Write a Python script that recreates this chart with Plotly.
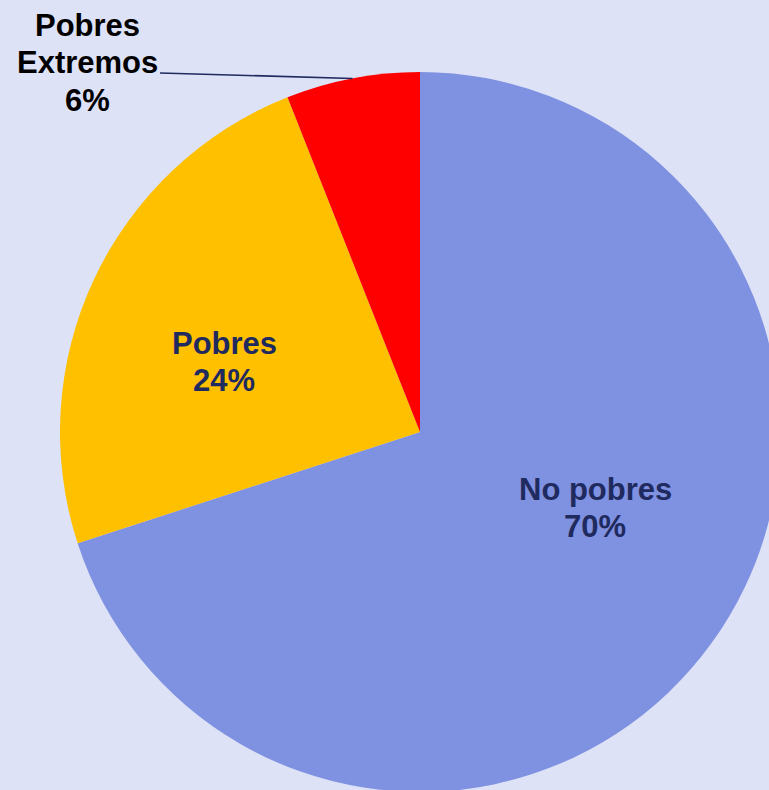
import math
import plotly.graph_objects as go

# Data
labels = ["No pobres", "Pobres", "Pobres Extremos"]
values = [70, 24, 6]
colors = ["#7F91E1", "#FFC000", "#FF0000"]
label_lines = [["No pobres"], ["Pobres"], ["Pobres", "Extremos"]]

# Layout geometry (pixels)
W, H = 800, 800
cx, cy, r = 420, 432, 360
dom_x = [(cx - r) / W, (cx + r) / W]
dom_y = [1 - (cy + r) / H, 1 - (cy - r) / H]

navy = "#1F2A5E"
bg = "#DDE2F6"
font_family = "Liberation Sans, Arial, sans-serif"
fsize = 31
line_gap = 37
# label block centres (pixels) and text colours
label_pos = [(595, 508), (224, 362), (87, 63)]
label_color = [navy, navy, "#000000"]

total = sum(values)

fig = go.Figure()
fig.add_trace(go.Pie(
    labels=labels,
    values=values,
    sort=False,
    direction="clockwise",
    rotation=0,
    marker=dict(colors=colors, line=dict(width=0)),
    textinfo="none",
    domain=dict(x=dom_x, y=dom_y),
    showlegend=False,
    hoverinfo="label+percent",
))

def px(x):
    return x / W

def py(y):
    return 1 - y / H

# Labels, one annotation per line for Excel-like line spacing
for i, v in enumerate(values):
    lines = label_lines[i] + [f"{round(v / total * 100)}%"]
    bx, by = label_pos[i]
    n = len(lines)
    for k, t in enumerate(lines):
        yk = by + (k - (n - 1) / 2) * line_gap
        fig.add_annotation(
            xref="paper", yref="paper", x=px(bx), y=py(yk),
            xanchor="center", yanchor="middle",
            text=f"<b>{t}</b>", showarrow=False,
            font=dict(family=font_family, size=fsize, color=label_color[i]),
        )

# Leader line for the small slice, to its mid-angle on the rim
start = sum(values[:2]) / total
mid = (start + values[2] / total / 2) * 2 * math.pi
hx = cx + r * math.sin(mid)
hy = cy - r * math.cos(mid)
fig.add_shape(
    type="line", xref="paper", yref="paper",
    x0=px(160), y0=py(73), x1=px(hx), y1=py(hy),
    line=dict(color=navy, width=1.5),
)

fig.update_layout(
    width=W, height=H,
    margin=dict(l=0, r=0, t=0, b=0),
    paper_bgcolor=bg,
    plot_bgcolor=bg,
)

fig.write_html(
    "out.html",
    config={"displayModeBar": False},
    post_script="document.body.style.margin='0';document.body.style.overflow='hidden';document.documentElement.style.overflow='hidden';",
)
